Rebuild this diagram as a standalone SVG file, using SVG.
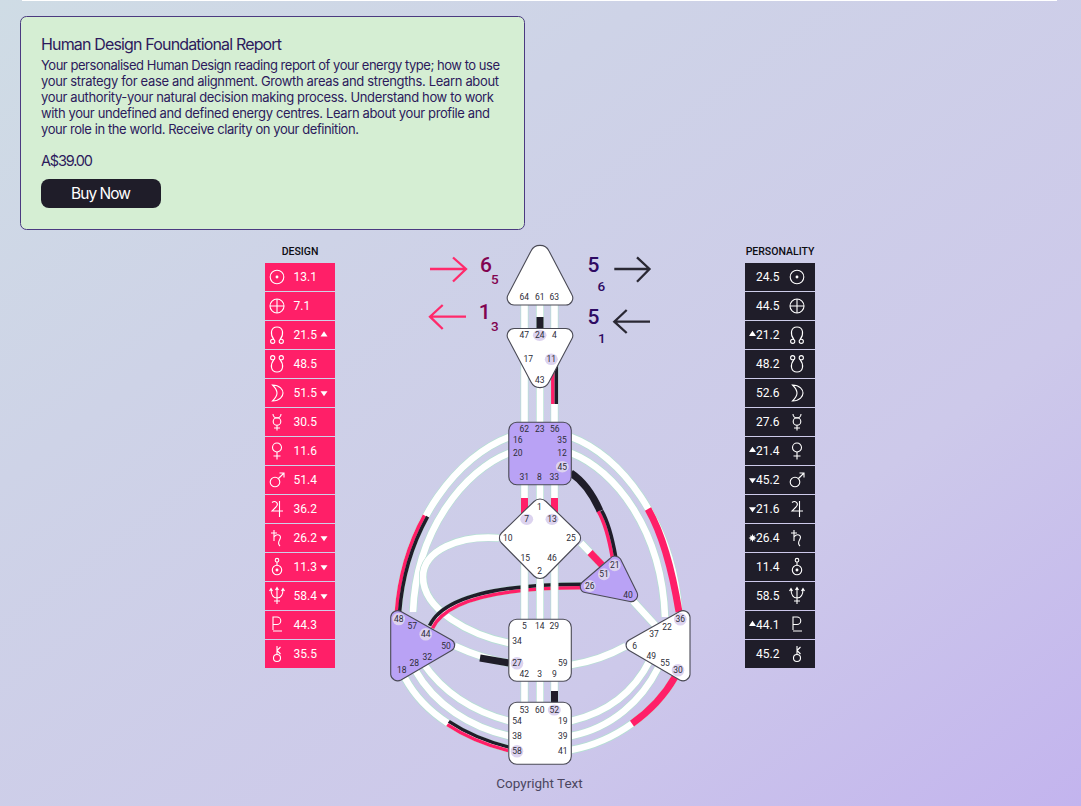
<svg xmlns="http://www.w3.org/2000/svg" xmlns:xlink="http://www.w3.org/1999/xlink" width="1081" height="806" viewBox="0 0 1081 806">
<style>
.e{fill:none;stroke:#b5e0d3;stroke-width:8}
.w{fill:none;stroke:#fff;stroke-width:6.600}
.k{fill:none;stroke:#1f1d29}
.p{fill:none;stroke:#ff1f68}
.f7{stroke-width:7}
.f35{stroke-width:3.500}
.node{fill:#fff;stroke:#4a4a55;stroke-width:1.100}
.on{fill:#b9a2f5}
.g{font:8.500px Roboto,sans-serif;fill:#2e2e38;text-anchor:middle}
.hl{fill:#dcd3ef}
.rt{font:12px Roboto,sans-serif;fill:#fff}
.rp{fill:#ff1f68}
.rd{fill:#1f1d29}
.ic{fill:none;stroke:#fff;stroke-width:1.100}
.mk{fill:#fff}
.body{font:13px Inter,"Noto Sans",sans-serif;fill:#2c1a5c}
.hd{font:500 10.500px Roboto,sans-serif;fill:#0c0c12;text-anchor:middle}
.big{font:500 21px Roboto,sans-serif}
.sub{font:500 13.500px Roboto,sans-serif}
.dp{fill:#82034f}
.pv{fill:#2d0a62}
.ar{fill:none;stroke-width:2.300}
</style>
<defs>
<linearGradient id="bg" x1="0" y1="0" x2="1" y2="1"><stop offset="0" stop-color="#cfdce5"/><stop offset=".3" stop-color="#ced3e7"/><stop offset=".7" stop-color="#cdc9ea"/><stop offset="1" stop-color="#c3b4ee"/></linearGradient>
<g id="sun"><circle r="6.800"/><circle r=".9" fill="#fff"/></g>
<g id="earth"><circle r="7"/><path d="M-7 0H7M0-7V7"/></g>
<g id="nn"><circle cx="-4.300" cy="6.300" r="2.100"/><circle cx="4.300" cy="6.300" r="2.100"/><path d="M-3.200 4.400C-7-.5-6.500-8 0-8S7-.5 3.200 4.400"/></g>
<g id="sn"><circle cx="-4.300" cy="-6.300" r="2.100"/><circle cx="4.300" cy="-6.300" r="2.100"/><path d="M-3.200-4.400C-7 .5-6.500 8 0 8S7 .5 3.200-4.400"/></g>
<g id="moon"><path d="M-4.500-8C3-8 6-3 6 0S3 8-4.500 8C-1.500 5 0 3 0 0S-1.500-5-4.500-8Z"/></g>
<g id="mer"><circle cy="-.5" r="3.800"/><path d="M-4-8A4 4 0 0 0 4-8M0 3.300V8.500M-3 6H3"/></g>
<g id="ven"><circle cy="-3.500" r="4.500"/><path d="M0 1V8.500M-3.500 5H3.500"/></g>
<g id="mar"><circle cx="-2" cy="2" r="4.800"/><path d="M1.500-1.500L7-7M2.500-7H7V-2.500"/></g>
<g id="jup"><path d="M-5-6.500C-2-9 2.500-6 -1-2L-5 2H6M2.500-8V8"/></g>
<g id="sat"><path d="M-3-8V3M-6-5H0M-3-1C0-5 5-3 3 1C2 3 0 5 3 8"/></g>
<g id="ura"><circle cy="3" r="4.700"/><circle cy="3" r=".9" fill="#fff"/><path d="M0-1.700V-5"/><circle cy="-6.800" r="1.800"/></g>
<g id="nep"><path d="M-6-7C-6 0-3 2 0 2S6 0 6-7M0-8V8M-3 5H3M-7.500-5L-6-7.500L-4.500-5M4.500-5L6-7.500L7.500-5M-1.500-6L0-8.500L1.500-6"/></g>
<g id="plu"><path d="M-4 5V-8H0A3.700 3.700 0 0 1 0-.5H-4M-4 6H5"/></g>
<g id="chi"><circle cy="4" r="3.500"/><path d="M0 .5V-8M0-3.500L3.500-7M0-3.500L3.500 0"/></g>
<polygon id="up" points="-3.500,2.500 3.500,2.500 0,-2.800"/>
<polygon id="dn" points="-3.500,-2.300 3.500,-2.300 0,2.800"/>
<polygon id="st" points="0,-4 1,-1.700 2.800,-2.800 1.800,-1 4,0 1.800,1 2.800,2.800 1,1.700 0,4 -1,1.700 -2.800,2.800 -1.800,1 -4,0 -1.800,-1 -2.800,-2.800 -1,-1.700"/>
</defs>
<rect width="1081" height="806" fill="url(#bg)"/>
<rect x="22" y="0" width="1035" height="1" fill="#fff"/>

<g id="report-card">
<rect x="20.500" y="16.500" width="504" height="213" rx="6" fill="#d5eed3" stroke="#4b3a80"/>
<text x="41" y="50" style="font:16px Inter,sans-serif;fill:#2c1a5c" textLength="241">Human Design Foundational Report</text>
<text class="body" x="41" y="70" textLength="459">Your personalised Human Design reading report of your energy type; how to use</text>
<text class="body" x="41" y="86" textLength="458">your strategy for ease and alignment. Growth areas and strengths. Learn about</text>
<text class="body" x="41" y="102" textLength="453">your authority-your natural decision making process. Understand how to work</text>
<text class="body" x="41" y="118" textLength="449">with your undefined and defined energy centres. Learn about your profile and</text>
<text class="body" x="41" y="134" textLength="318">your role in the world. Receive clarity on your definition.</text>
<text x="41" y="166" style="font:14.500px Inter,sans-serif;fill:#2c1a5c" textLength="52">A$39.00</text>
<rect x="41" y="179" width="120" height="29" rx="8" fill="#1f1d29"/>
<text x="101" y="199" style="font:15.500px Inter,sans-serif;fill:#fff;text-anchor:middle" textLength="60">Buy Now</text>
</g>

<g id="connectors">
<path class="e" d="M509 437C460 455 405 520 398 612"/><path class="w" d="M509 437C460 455 405 520 398 612"/>
<path class="p f35" d="M424.400 515.400C409.700 542.100 399.200 574.600 396.400 612"/><path class="k f35" d="M427.600 516.600C412.900 543.300 402.400 575.800 399.600 612"/>
<path class="e" d="M509 453C465 470 416 530 413 612"/><path class="w" d="M509 453C465 470 416 530 413 612"/>
<path class="e" d="M571 437C620 455 672 520 679 612"/><path class="w" d="M571 437C620 455 672 520 679 612"/>
<path class="p f7" d="M648 509C664 537 673 575 679 612"/>
<path class="e" d="M571 453C615 470 662 530 665 617"/><path class="w" d="M571 453C615 470 662 530 665 617"/>
<path class="k f7" d="M571 473C583 481 593 495 600 511"/>
<path class="p f35" d="M598.300 511.400C605.300 523.400 609.300 540.400 612.300 557.400"/><path class="k f35" d="M601.700 510.600C608.700 522.600 612.700 539.600 615.700 556.600"/>
<path class="e" d="M581 543L604 567"/><path class="w" d="M581 543L604 567"/><path class="p f7" d="M590 552.500L602 565"/>
<path class="e" d="M499 538C460 535 423 550 423 577C423 610 470 635 509 643"/><path class="w" d="M499 538C460 535 423 550 423 577C423 610 470 635 509 643"/>
<path class="e" d="M431 627C445 597 505 586 582 586"/><path class="w" d="M431 627C445 597 505 586 582 586"/>
<path class="p f35" d="M432.500 628.200C446.500 598.700 505.500 587.800 582 587.800"/><path class="k f35" d="M429.500 625.800C443.500 595.300 504.500 584.200 582 584.200"/>
<path class="e" d="M633 601L656 626"/><path class="w" d="M633 601L656 626"/>
<path class="e" d="M571 665C590 662 610 655 626 646"/><path class="w" d="M571 665C590 662 610 655 626 646"/>
<path class="e" d="M455 646C470 653 490 660 509 663"/><path class="w" d="M455 646C470 653 490 660 509 663"/>
<path class="k f7" d="M480 658L509 663"/>
<path class="e" d="M423 663C445 695 475 712 509 721"/><path class="w" d="M423 663C445 695 475 712 509 721"/>
<path class="e" d="M415 670C435 705 470 727 509 736"/><path class="w" d="M415 670C435 705 470 727 509 736"/>
<path class="e" d="M405 678C425 715 465 738 509 749"/><path class="w" d="M405 678C425 715 465 738 509 749"/>
<path class="k f35" d="M448.800 721.400C466.800 733.400 487.800 741.900 509.800 747.400"/><path class="p f35" d="M447.200 724.600C465.200 736.600 486.200 745.100 508.200 750.600"/>
<path class="e" d="M571 721C610 712 635 690 650 660"/><path class="w" d="M571 721C610 712 635 690 650 660"/>
<path class="e" d="M571 736C612 728 642 700 658 668"/><path class="w" d="M571 736C612 728 642 700 658 668"/>
<path class="e" d="M571 750C615 742 655 712 675 677"/><path class="w" d="M571 750C615 742 655 712 675 677"/>
<path class="p f7" d="M632 723.600C650 710.800 665 694.500 675 677"/>

<path class="e" d="M524.500 305V328M540 305V328M554.500 305V328M524.500 345V422M540 380V422M554.500 365V422M524.500 484V516M540 484V505M554.500 484V516M524.500 560V619M540 575V619M554.500 560V619M524.500 681V702M540 681V702M554.500 681V702"/>
<path class="w" d="M524.500 305V328M540 305V328M554.500 305V328M524.500 345V422M540 380V422M554.500 365V422M524.500 484V516M540 484V505M554.500 484V516M524.500 560V619M540 575V619M554.500 560V619M524.500 681V702M540 681V702M554.500 681V702"/>
<path class="k f7" d="M540 317V330M554.500 691V703"/>
<path class="p f35" d="M552.800 365V404"/><path class="k f35" d="M556.300 365V404"/>
<path class="p f7" d="M524.500 498V516M554.500 498V516"/>
</g>

<g id="head"><path class="node" d="M531 251A10 10 0 0 1 549 251L571.800 294.500A7 7 0 0 1 565 305H515A7 7 0 0 1 508.200 294.500Z"/>
<text class="g" x="524.300" y="300.300">64</text><text class="g" x="539.700" y="300.300">61</text><text class="g" x="554.300" y="300.300">63</text></g>
<g id="ajna"><path class="node" d="M515 328.500H565A7 7 0 0 1 571.800 339L549 382A10 10 0 0 1 531 382L508.200 339A7 7 0 0 1 515 328.500Z"/>
<ellipse class="hl" cx="539.700" cy="335.300" rx="6.800" ry="5.600"/><ellipse class="hl" cx="551.300" cy="359.300" rx="6.500" ry="5.800"/>
<text class="g" x="524.300" y="338.300">47</text><text class="g" x="539.700" y="338.300">24</text><text class="g" x="554.300" y="338.300">4</text><text class="g" x="528.300" y="362.300">17</text><text class="g" x="551.300" y="362.300">11</text><text class="g" x="539.700" y="383">43</text></g>
<g id="g-center"><rect class="node on" x="508.800" y="422.300" width="62.500" height="62.500" rx="8"/>
<ellipse class="hl" cx="562.300" cy="466.700" rx="6.500" ry="5.800"/>
<text class="g" x="524.300" y="432.300">62</text><text class="g" x="539.700" y="432.300">23</text><text class="g" x="554.700" y="432.300">56</text><text class="g" x="517.700" y="443.300">16</text><text class="g" x="562" y="443.300">35</text><text class="g" x="517.700" y="456.300">20</text><text class="g" x="562" y="456.300">12</text><text class="g" x="562.300" y="469.800">45</text><text class="g" x="524.300" y="480.300">31</text><text class="g" x="539.300" y="480.300">8</text><text class="g" x="554.300" y="480.300">33</text></g>
<g id="throat-diamond"><path class="node" d="M534 501.500A8.500 8.500 0 0 1 546 501.500L578.500 533A7 7 0 0 1 578.500 543L546 576A8.500 8.500 0 0 1 534 576L501.500 543A7 7 0 0 1 501.500 533Z"/>
<ellipse class="hl" cx="526.700" cy="519.300" rx="6.500" ry="5.600"/><ellipse class="hl" cx="552" cy="519.300" rx="6.500" ry="5.600"/>
<text class="g" x="539.300" y="510.300">1</text><text class="g" x="526.700" y="522.300">7</text><text class="g" x="552" y="522.300">13</text><text class="g" x="507.700" y="541.300">10</text><text class="g" x="571" y="541.300">25</text><text class="g" x="525.300" y="561.300">15</text><text class="g" x="552" y="561.300">46</text><text class="g" x="539.700" y="574">2</text></g>
<g id="heart"><path class="node on" d="M610 558.500A6.500 6.500 0 0 1 620.500 559L637 592.500A6.500 6.500 0 0 1 630 601.500L585 592.500A6 6 0 0 1 582.500 582Z"/>
<circle class="hl" cx="614.700" cy="565.300" r="6"/><circle class="hl" cx="604" cy="574.300" r="6"/><circle class="hl" cx="589.700" cy="586" r="6"/>
<text class="g" x="614.700" y="568.300">21</text><text class="g" x="604" y="577.300">51</text><text class="g" x="589.700" y="589">26</text><text class="g" x="628" y="597.700">40</text></g>
<g id="spleen"><path class="node on" d="M390.700 617A7 7 0 0 1 401 611.500L451.500 640A6 6 0 0 1 451.500 650.500L401 680A7 7 0 0 1 390.700 674.500Z"/>
<circle class="hl" cx="398.700" cy="619" r="6.300"/><circle class="hl" cx="425.700" cy="634.300" r="6.300"/>
<text class="g" x="398.700" y="622">48</text><text class="g" x="412.300" y="629">57</text><text class="g" x="425.700" y="637.300">44</text><text class="g" x="446" y="649">50</text><text class="g" x="427.300" y="660">32</text><text class="g" x="414.300" y="666.300">28</text><text class="g" x="401.700" y="673.300">18</text></g>
<g id="sacral"><rect class="node" x="508.800" y="619.300" width="62.500" height="62" rx="8"/>
<circle class="hl" cx="517" cy="663.300" r="6.300"/>
<text class="g" x="524.300" y="629">5</text><text class="g" x="539.700" y="629">14</text><text class="g" x="554.300" y="629">29</text><text class="g" x="517" y="644.300">34</text><text class="g" x="517" y="666.300">27</text><text class="g" x="562.700" y="666.300">59</text><text class="g" x="524.300" y="677.300">42</text><text class="g" x="539.700" y="677.300">3</text><text class="g" x="554.300" y="677.300">9</text></g>
<g id="solar-plexus"><path class="node" d="M690 617A7 7 0 0 0 679.700 611.500L629.200 640A6 6 0 0 0 629.200 650.500L679.700 680A7 7 0 0 0 690 674.500Z"/>
<circle class="hl" cx="680.300" cy="619.300" r="6.300"/><circle class="hl" cx="678" cy="670.300" r="6.300"/>
<text class="g" x="680.300" y="622.300">36</text><text class="g" x="667" y="630">22</text><text class="g" x="654" y="637.300">37</text><text class="g" x="634.700" y="649">6</text><text class="g" x="651.300" y="659">49</text><text class="g" x="665" y="666.300">55</text><text class="g" x="678" y="673.300">30</text></g>
<g id="root"><rect class="node" x="508.800" y="702.300" width="62.500" height="62" rx="8"/>
<ellipse class="hl" cx="554.300" cy="710" rx="6.500" ry="5.600"/><circle class="hl" cx="517" cy="751.300" r="6.300"/>
<text class="g" x="524.300" y="713">53</text><text class="g" x="539.700" y="713">60</text><text class="g" x="554.300" y="713">52</text><text class="g" x="517" y="724">54</text><text class="g" x="562.700" y="724">19</text><text class="g" x="517" y="739.300">38</text><text class="g" x="562.700" y="739.300">39</text><text class="g" x="517" y="754.300">58</text><text class="g" x="562.700" y="754.300">41</text></g>

<g id="profile-arrows">
<path class="ar" stroke="#ff2a6b" d="M430 269H466M453 257.500L466 269L453 281.500"/>
<path class="ar" stroke="#ff2a6b" d="M466 316.700H430M442.700 305L430 316.700L442.700 329"/>
<path class="ar" stroke="#2a2833" d="M614.300 269H649.500M637 257.300L649.500 269L637 281.700"/>
<path class="ar" stroke="#2a2833" d="M650 321.700H614.300M626.700 310L614.300 321.700L626.700 333"/>
<text class="big dp" x="480" y="272">6</text><text class="sub dp" x="491" y="284">5</text>
<text class="big dp" x="478.800" y="319">1</text><text class="sub dp" x="491" y="331">3</text>
<text class="big pv" x="587.500" y="272">5</text><text class="sub pv" x="597.500" y="291">6</text>
<text class="big pv" x="587.500" y="324">5</text><text class="sub pv" x="598" y="343">1</text>
</g>

<g id="design-column">
<text class="hd" x="300" y="255">DESIGN</text>
<g class="rp"><rect x="265" y="263" width="70" height="28"/><rect x="265" y="292" width="70" height="28"/><rect x="265" y="321" width="70" height="28"/><rect x="265" y="350" width="70" height="28"/><rect x="265" y="379" width="70" height="28"/><rect x="265" y="408" width="70" height="28"/><rect x="265" y="437" width="70" height="28"/><rect x="265" y="466" width="70" height="28"/><rect x="265" y="495" width="70" height="28"/><rect x="265" y="524" width="70" height="28"/><rect x="265" y="553" width="70" height="28"/><rect x="265" y="582" width="70" height="28"/><rect x="265" y="611" width="70" height="28"/><rect x="265" y="640" width="70" height="28"/></g>
<g class="ic"><use href="#sun" x="277" y="277"/><use href="#earth" x="277" y="306"/><use href="#nn" x="277" y="335"/><use href="#sn" x="277" y="364"/><use href="#moon" x="277" y="393"/><use href="#mer" x="277" y="422"/><use href="#ven" x="277" y="451"/><use href="#mar" x="277" y="480"/><use href="#jup" x="277" y="509"/><use href="#sat" x="277" y="538"/><use href="#ura" x="277" y="567"/><use href="#nep" x="277" y="596"/><use href="#plu" x="277" y="625"/><use href="#chi" x="277" y="654"/></g>
<g class="rt"><text x="293.500" y="281">13.1</text><text x="293.500" y="310">7.1</text><text x="293.500" y="339">21.5</text><text x="293.500" y="368">48.5</text><text x="293.500" y="397">51.5</text><text x="293.500" y="426">30.5</text><text x="293.500" y="455">11.6</text><text x="293.500" y="484">51.4</text><text x="293.500" y="513">36.2</text><text x="293.500" y="542">26.2</text><text x="293.500" y="571">11.3</text><text x="293.500" y="600">58.4</text><text x="293.500" y="629">44.3</text><text x="293.500" y="658">35.5</text></g>
<g class="mk"><use href="#up" x="324" y="334"/><use href="#dn" x="324" y="393.500"/><use href="#dn" x="324" y="538.500"/><use href="#dn" x="324" y="567.500"/><use href="#dn" x="324" y="596.500"/></g>
</g>

<g id="personality-column">
<text class="hd" x="780" y="255">PERSONALITY</text>
<g class="rd"><rect x="745" y="263" width="70" height="28"/><rect x="745" y="292" width="70" height="28"/><rect x="745" y="321" width="70" height="28"/><rect x="745" y="350" width="70" height="28"/><rect x="745" y="379" width="70" height="28"/><rect x="745" y="408" width="70" height="28"/><rect x="745" y="437" width="70" height="28"/><rect x="745" y="466" width="70" height="28"/><rect x="745" y="495" width="70" height="28"/><rect x="745" y="524" width="70" height="28"/><rect x="745" y="553" width="70" height="28"/><rect x="745" y="582" width="70" height="28"/><rect x="745" y="611" width="70" height="28"/><rect x="745" y="640" width="70" height="28"/></g>
<g class="ic"><use href="#sun" x="797" y="277"/><use href="#earth" x="797" y="306"/><use href="#nn" x="797" y="335"/><use href="#sn" x="797" y="364"/><use href="#moon" x="797" y="393"/><use href="#mer" x="797" y="422"/><use href="#ven" x="797" y="451"/><use href="#mar" x="797" y="480"/><use href="#jup" x="797" y="509"/><use href="#sat" x="797" y="538"/><use href="#ura" x="797" y="567"/><use href="#nep" x="797" y="596"/><use href="#plu" x="797" y="625"/><use href="#chi" x="797" y="654"/></g>
<g class="rt" text-anchor="end"><text x="779.500" y="281">24.5</text><text x="779.500" y="310">44.5</text><text x="779.500" y="339">21.2</text><text x="779.500" y="368">48.2</text><text x="779.500" y="397">52.6</text><text x="779.500" y="426">27.6</text><text x="779.500" y="455">21.4</text><text x="779.500" y="484">45.2</text><text x="779.500" y="513">21.6</text><text x="779.500" y="542">26.4</text><text x="779.500" y="571">11.4</text><text x="779.500" y="600">58.5</text><text x="779.500" y="629">44.1</text><text x="779.500" y="658">45.2</text></g>
<g class="mk"><use href="#up" x="752.500" y="333.500"/><use href="#up" x="752.500" y="449.500"/><use href="#dn" x="752.500" y="480.500"/><use href="#dn" x="752.500" y="509.500"/><use href="#st" x="752.500" y="538"/><use href="#up" x="752.500" y="623.500"/></g>
</g>

<text x="539.500" y="788" style="font:13.500px Roboto,sans-serif;fill:#4b4660;text-anchor:middle">Copyright Text</text>
</svg>
